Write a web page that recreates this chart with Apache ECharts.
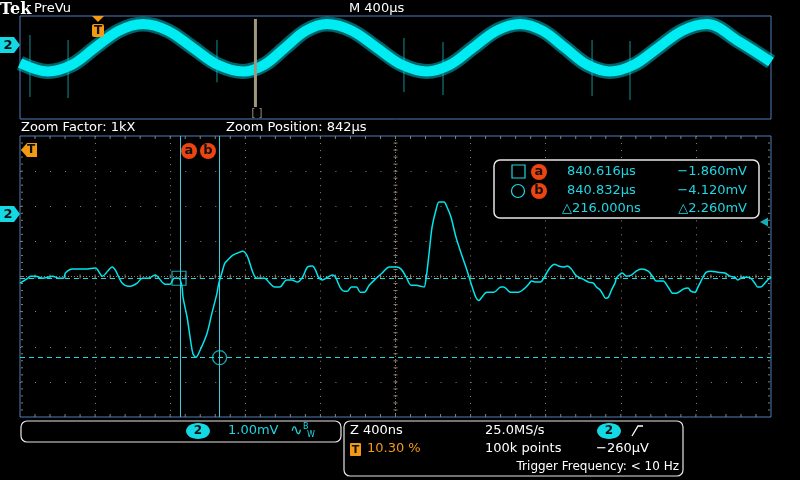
<!DOCTYPE html>
<html>
<head>
<meta charset="utf-8">
<script src="https://cdn.jsdelivr.net/npm/echarts@6/dist/echarts.min.js"></script>
<style>
html,body{margin:0;padding:0;background:#000;}
#chart{width:800px;height:480px;}
</style>
</head>
<body>
<div id="chart"></div>
<script>
// ---- Zoomed waveform (time in µs, value in mV) ----
const waveTime = [839.769,839.810,839.826,839.852,839.889,839.943,839.974,840.001,840.011,840.049,840.118,840.171,840.208,840.261,840.277,840.314,840.356,840.393,840.420,840.452,840.489,840.505,840.542,840.568,840.590,840.616,840.632,840.637,840.659,840.675,840.690,840.706,840.728,840.765,840.791,840.818,840.828,840.844,840.860,840.876,840.903,840.929,840.956,840.977,840.993,841.009,841.030,841.072,841.099,841.125,841.152,841.189,841.216,841.247,841.274,841.300,841.327,841.343,841.359,841.380,841.407,841.433,841.449,841.476,841.497,841.513,841.534,841.561,841.582,841.603,841.629,841.667,841.698,841.736,841.773,841.799,841.826,841.852,841.879,841.905,841.921,841.932,841.948,841.964,841.985,842.001,842.027,842.043,842.064,842.091,842.118,842.144,842.171,842.197,842.213,842.229,842.255,842.293,842.330,842.346,842.372,842.388,842.425,842.452,842.478,842.494,842.515,842.542,842.558,842.574,842.595,842.616,842.637,842.664,842.685,842.706,842.728,842.744,842.770,842.797,842.823,842.839,842.860,842.876,842.887,842.903,842.919,842.940,842.945,842.966,842.977,842.998,843.025,843.051,843.078,843.115,843.141,843.157,843.194,843.221,843.247,843.263,843.301,843.327,843.343,843.364,843.380,843.407,843.423,843.449,843.486,843.523,843.550,843.576,843.592,843.619,843.645,843.661,843.683,843.698,843.714,843.736,843.751,843.769];
const waveMv = [-2.00,-1.86,-1.80,-1.80,-1.86,-1.80,-1.86,-1.86,-1.71,-1.60,-1.60,-1.57,-1.80,-1.54,-1.63,-2.00,-2.09,-2.00,-1.86,-1.86,-1.77,-1.83,-2.03,-2.03,-1.86,-1.86,-2.11,-2.40,-2.97,-3.54,-4.00,-4.11,-3.91,-3.43,-2.86,-2.29,-2.00,-1.71,-1.43,-1.34,-1.20,-1.14,-1.09,-1.20,-1.43,-1.69,-1.86,-1.86,-2.00,-2.11,-2.11,-1.91,-1.91,-1.97,-1.83,-1.54,-1.51,-1.63,-1.83,-1.91,-1.83,-1.77,-1.83,-2.14,-2.23,-2.23,-2.11,-2.11,-2.26,-2.26,-2.06,-1.86,-1.71,-1.54,-1.54,-1.60,-1.83,-2.06,-2.06,-2.09,-2.11,-1.86,-1.14,-0.40,0.09,0.31,0.31,0.17,-0.11,-0.69,-1.14,-1.54,-2.00,-2.40,-2.49,-2.40,-2.26,-2.26,-2.11,-2.11,-2.23,-2.26,-2.26,-2.17,-2.03,-1.94,-1.97,-1.97,-1.86,-1.71,-1.54,-1.46,-1.51,-1.54,-1.51,-1.60,-1.77,-1.83,-1.89,-1.97,-2.00,-2.11,-2.20,-2.34,-2.43,-2.40,-2.20,-1.97,-1.86,-1.74,-1.71,-1.80,-1.77,-1.66,-1.60,-1.66,-1.83,-1.94,-1.94,-2.11,-2.29,-2.29,-2.17,-2.14,-2.23,-2.26,-2.11,-1.83,-1.69,-1.66,-1.69,-1.71,-1.80,-1.83,-1.91,-1.83,-1.83,-1.86,-2.00,-2.11,-2.11,-2.00,-1.91,-1.83];

// zoom window axis extents (10 div x 400 ns, 8 div x 1 mV)
const zoomXMin = 839.769, zoomXMax = 843.769;
const voltMin = -5.81, voltMax = 2.19;

// cursors
const cursorTime = [840.616, 840.832];
const cursorMv = [-1.860, -4.120];
const triggerLevelMv = -0.26;

// ---- PreVu overview (time in µs, value in mV) ----
const ovXMin = -412, ovXMax = 3588;
const ovTime = [-412,-263,-135,-13,115,243,376,509,642,776,888,999,1111,1223,1356,1489,1622,1756,1878,2001,2126,2251,2371,2491,2610,2730,2858,2986,3116,3247,3418,3588];
const ovMv = [-1.46,-2.12,-1.60,-0.28,1.05,1.57,1.05,-0.28,-1.60,-2.12,-1.60,-0.28,1.05,1.57,1.05,-0.28,-1.60,-2.12,-1.60,-0.28,1.05,1.57,1.05,-0.28,-1.60,-2.12,-1.60,-0.28,1.05,1.57,0.20,-1.38];
const spikeTime = [-359,-156,637,1633,1841,2635,2837];
const spikeTop = [0.71,0.33,0.33,0.48,0.17,0.33,0.25];
const spikeBottom = [-4.10,-4.18,-2.95,-3.71,-3.95,-4.02,-4.33];
const zoomPosition = 842;
const zoomBarTop = 1.96, zoomBarBottom = -4.88;

// ---- readout texts ----
const readA = ['840.616µs', '−1.860mV'];
const readB = ['840.832µs', '−4.120mV'];
const readDelta = ['△216.000ns', '△2.260mV'];

const waveData = waveTime.map((t, i) => [t, waveMv[i]]);
const ovData = ovTime.map((t, i) => [t, ovMv[i]]);
const spikeData = spikeTime.map((t, i) => [t, spikeTop[i], spikeBottom[i]]);

const CY = '#1fd6e2';
const WAVE = '#00e6ee';
const ORANGE = '#f39a12';
const RED = '#ee4410';
const DOT = '#8e826a';
const FRAME = '#4f7cb8';
const FONT = '13px "DejaVu Sans"';

function txt(x, y, text, fill, font, align) {
  return { type: 'text', x: x, y: y, z: 100,
    style: { text: text, fill: fill || '#fff', font: font || FONT,
      textAlign: align || 'left', textVerticalAlign: 'middle',
      align: align || 'left', verticalAlign: 'middle' } };
}
function badge(cx, cy, letter) {
  return [
    { type: 'circle', z: 100, shape: { cx: cx, cy: cy, r: 8 }, style: { fill: RED } },
    txt(cx, cy, letter, '#111', 'bold 13px "DejaVu Sans"', 'center')
  ];
}
function chBadge(cx, cy) {
  return [
    { type: 'ellipse', z: 100, shape: { cx: cx, cy: cy, rx: 12, ry: 8 }, style: { fill: '#14d8e4' } },
    txt(cx, cy, '2', '#111', 'bold 12px "DejaVu Sans"', 'center')
  ];
}
function chMarker(y) {
  return [
    { type: 'polygon', z: 100, shape: { points: [[0, y - 8], [14, y - 8], [20, y], [14, y + 8], [0, y + 8]] }, style: { fill: '#14d8e4' } },
    txt(8, y + 1, '2', '#111', 'bold 13px "DejaVu Sans"', 'center')
  ];
}

const graphic = [].concat(
  [
    txt(0, 10, 'Tek', '#fff', 'bold 16px "DejaVu Serif"'),
    txt(34, 9, 'PreVu'),
    txt(349, 9, 'M 400µs'),
    txt(21, 128, 'Zoom Factor: 1kX'),
    txt(226, 128, 'Zoom Position: 842µs'),
    txt(257, 113, '[ ]', '#9e9580', '10px "DejaVu Sans"', 'center'),
    // overview trigger marker
    { type: 'polygon', z: 100, shape: { points: [[92, 16], [104, 16], [98, 22]] }, style: { fill: ORANGE } },
    { type: 'rect', z: 100, shape: { x: 92, y: 24, width: 12, height: 13, r: 2 }, style: { fill: ORANGE } },
    txt(98, 31, 'T', '#111', 'bold 12px "DejaVu Sans"', 'center'),
    // main trigger position marker
    { type: 'polygon', z: 100, shape: { points: [[21, 150], [27, 143], [37, 143], [37, 157], [27, 157]] }, style: { fill: ORANGE } },
    txt(31, 150, 'T', '#111', 'bold 12px "DejaVu Sans"', 'center'),
    // readout box
    { type: 'rect', z: 90, shape: { x: 494, y: 160, width: 265, height: 58, r: 6 }, style: { fill: '#000', stroke: '#e6e6e6', lineWidth: 1.5 } },
    { type: 'rect', z: 100, shape: { x: 512, y: 165, width: 13, height: 13 }, style: { fill: 'none', stroke: CY, lineWidth: 1.2 } },
    { type: 'circle', z: 100, shape: { cx: 518, cy: 191, r: 6.5 }, style: { fill: 'none', stroke: CY, lineWidth: 1.2 } },
    txt(567, 172, readA[0], CY), txt(747, 172, readA[1], CY, FONT, 'right'),
    txt(567, 191, readB[0], CY), txt(747, 191, readB[1], CY, FONT, 'right'),
    txt(562, 209, readDelta[0], CY), txt(747, 209, readDelta[1], CY, FONT, 'right'),
    // bottom boxes
    { type: 'rect', z: 90, shape: { x: 21, y: 421, width: 320, height: 21, r: 6 }, style: { fill: '#000', stroke: '#e6e6e6', lineWidth: 1.2 } },
    txt(228, 431, '1.00mV', CY),
    txt(290, 431, '∿', CY, '15px "DejaVu Sans"'),
    txt(303, 427, 'B', CY, '8px "DejaVu Sans"'),
    txt(307, 435, 'W', CY, '8px "DejaVu Sans"'),
    { type: 'rect', z: 90, shape: { x: 344, y: 421, width: 339, height: 55, r: 6 }, style: { fill: '#000', stroke: '#e6e6e6', lineWidth: 1.2 } },
    txt(350, 431, 'Z 400ns'),
    { type: 'rect', z: 100, shape: { x: 350, y: 443, width: 11, height: 13, r: 1 }, style: { fill: ORANGE } },
    txt(355.5, 450, 'T', '#111', 'bold 11px "DejaVu Sans"', 'center'),
    txt(367, 449, '10.30 %', ORANGE),
    txt(485, 431, '25.0MS/s'),
    txt(485, 449, '100k points'),
    txt(596, 449, '−260µV'),
    { type: 'polyline', z: 100, shape: { points: [[632, 436], [638, 426], [643, 426]] }, style: { stroke: '#fff', lineWidth: 1.3, fill: 'none' } },
    txt(679, 467, 'Trigger Frequency: < 10 Hz', '#fff', '12px "DejaVu Sans"', 'right')
  ],
  badge(189, 151, 'a'), badge(208, 151, 'b'),
  badge(539, 172, 'a'), badge(539, 191, 'b'),
  chBadge(198, 431), chBadge(609, 431),
  chMarker(214), chMarker(45)
);

const divAxisCommon = {
  type: 'value', gridIndex: 0, interval: 1, show: true,
  axisLabel: { show: false }, axisLine: { show: false },
  axisTick: { show: false }, minorTick: { show: false }
};

const option = {
  backgroundColor: '#000',
  animation: false,
  grid: [
    { left: 20, top: 136, width: 751, height: 281, show: true, borderColor: FRAME, borderWidth: 1, backgroundColor: 'transparent' },
    { left: 20, top: 16, width: 751, height: 103, show: true, borderColor: FRAME, borderWidth: 1, backgroundColor: 'transparent' }
  ],
  xAxis: [
    { type: 'value', gridIndex: 0, min: zoomXMin, max: zoomXMax, show: false },
    Object.assign({}, divAxisCommon, { min: 0, max: 10, position: 'bottom',
      splitLine: { show: true, showMinLine: false, showMaxLine: false, lineStyle: { color: DOT, type: [1, 6.025], width: 1 } } }),
    { type: 'value', gridIndex: 1, min: ovXMin, max: ovXMax, show: false }
  ],
  yAxis: [
    { type: 'value', gridIndex: 0, min: voltMin, max: voltMax, show: false },
    Object.assign({}, divAxisCommon, { min: 0, max: 8, position: 'left',
      splitLine: { show: true, showMinLine: false, showMaxLine: false, lineStyle: { color: DOT, type: [1, 14.02], width: 1 } } }),
    { type: 'value', gridIndex: 1, min: voltMin, max: voltMax, show: false }
  ],
  graphic: graphic,
  series: [
    {
      // centre cross and frame ticks of the division graticule
      type: 'custom', xAxisIndex: 1, yAxisIndex: 1, silent: true, z: 1,
      data: [[5, 4]],
      renderItem: function (params, api) {
        const l = api.coord([0, 4]), r = api.coord([10, 4]);
        const b = api.coord([5, 0]), t = api.coord([5, 8]);
        const c = api.coord([5, 4]);
        const kids = [
          { type: 'line', shape: { x1: l[0], y1: l[1], x2: r[0], y2: r[1] }, style: { stroke: DOT, lineWidth: 1, lineDash: [1, 2] } },
          { type: 'line', shape: { x1: b[0], y1: b[1], x2: t[0], y2: t[1] }, style: { stroke: DOT, lineWidth: 1, lineDash: [1, 2] } }
        ];
        for (let i = 1; i < 50; i++) {
          const p = api.coord([i * 0.2, 4]);
          kids.push({ type: 'line', shape: { x1: p[0], y1: c[1] - 2, x2: p[0], y2: c[1] + 2 }, style: { stroke: DOT, lineWidth: 1 } });
          kids.push({ type: 'line', shape: { x1: p[0], y1: b[1] - 3, x2: p[0], y2: b[1] }, style: { stroke: DOT, lineWidth: 1 } });
          kids.push({ type: 'line', shape: { x1: p[0], y1: t[1], x2: p[0], y2: t[1] + 3 }, style: { stroke: DOT, lineWidth: 1 } });
        }
        for (let j = 1; j < 40; j++) {
          const p = api.coord([5, j * 0.2]);
          kids.push({ type: 'line', shape: { x1: c[0] - 2, y1: p[1], x2: c[0] + 2, y2: p[1] }, style: { stroke: DOT, lineWidth: 1 } });
          kids.push({ type: 'line', shape: { x1: l[0] + 1, y1: p[1], x2: l[0] + 3, y2: p[1] }, style: { stroke: DOT, lineWidth: 1 } });
          kids.push({ type: 'line', shape: { x1: r[0] - 3, y1: p[1], x2: r[0] - 1, y2: p[1] }, style: { stroke: DOT, lineWidth: 1 } });
        }
        return { type: 'group', children: kids };
      }
    },
    {
      type: 'line', xAxisIndex: 0, yAxisIndex: 0, data: waveData, z: 5,
      symbol: 'none', smooth: 0.3,
      lineStyle: { color: WAVE, width: 1.5 },
      markLine: {
        silent: true, symbol: 'none', label: { show: false },
        data: [
          { xAxis: cursorTime[0], lineStyle: { color: '#3ccada', width: 1, type: 'solid' } },
          { xAxis: cursorTime[1], lineStyle: { color: '#3ccada', width: 1, type: 'solid' } },
          { yAxis: cursorMv[0], lineStyle: { color: CY, width: 1, type: [5, 4] } },
          { yAxis: cursorMv[1], lineStyle: { color: CY, width: 1, type: [5, 4] } }
        ]
      }
    },
    {
      type: 'scatter', xAxisIndex: 0, yAxisIndex: 0, z: 6, silent: true, clip: false,
      symbolSize: 14,
      itemStyle: { color: 'rgba(0,0,0,0)', borderColor: CY, borderWidth: 1.2 },
      data: [
        { value: [cursorTime[0], cursorMv[0]], symbol: 'rect' },
        { value: [cursorTime[1], cursorMv[1]], symbol: 'circle' }
      ]
    },
    {
      type: 'scatter', xAxisIndex: 0, yAxisIndex: 0, z: 6, silent: true, clip: false,
      symbol: 'triangle', symbolRotate: 90, symbolSize: [9, 8], symbolOffset: [-7, 0],
      itemStyle: { color: CY },
      data: [[zoomXMax, triggerLevelMv]]
    },
    {
      type: 'custom', xAxisIndex: 2, yAxisIndex: 2, silent: true, z: 2,
      data: spikeData,
      renderItem: function (params, api) {
        const p1 = api.coord([api.value(0), api.value(1)]);
        const p2 = api.coord([api.value(0), api.value(2)]);
        return { type: 'line', shape: { x1: p1[0], y1: p1[1], x2: p2[0], y2: p2[1] }, style: { stroke: '#0f6e72', lineWidth: 1.3 } };
      }
    },
    {
      type: 'line', xAxisIndex: 2, yAxisIndex: 2, data: ovData, z: 3, silent: true,
      symbol: 'none', smooth: 0.35,
      lineStyle: { color: 'rgba(0,225,235,0.45)', width: 15 }
    },
    {
      type: 'line', xAxisIndex: 2, yAxisIndex: 2, data: ovData, z: 4, silent: true,
      symbol: 'none', smooth: 0.35,
      lineStyle: { color: '#00ecf3', width: 10 }
    },
    {
      type: 'custom', xAxisIndex: 2, yAxisIndex: 2, silent: true, z: 8,
      data: [[zoomPosition, zoomBarTop, zoomBarBottom]],
      renderItem: function (params, api) {
        const p1 = api.coord([api.value(0), api.value(1)]);
        const p2 = api.coord([api.value(0), api.value(2)]);
        return { type: 'rect', shape: { x: p1[0] - 1.5, y: p1[1], width: 3, height: p2[1] - p1[1] }, style: { fill: '#a0977f' } };
      }
    }
  ]
};

const chart = echarts.init(document.getElementById('chart'), null, { renderer: 'canvas' });
chart.setOption(option);
</script>
</body>
</html>
